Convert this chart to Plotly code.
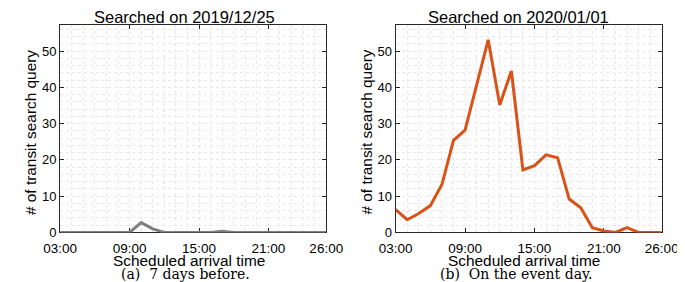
import plotly.graph_objects as go

hours = list(range(3, 27))
before_vals = [0, 0, 0, 0, 0, 0, 0, 2.7, 1.0, 0, 0, 0, 0, 0, 0.35, 0, 0, 0, 0, 0, 0, 0, 0, 0]
event_vals = [6.3, 3.5, 5.2, 7.4, 13.2, 25.4, 28.2, 41.0, 53.1, 35.1, 44.5, 17.2,
              18.4, 21.4, 20.6, 9.2, 6.8, 1.3, 0.4, 0.0, 1.3, 0, 0, 0]
tick_vals = [3, 9, 15, 21, 26]
tick_text = ["03:00", "09:00", "15:00", "21:00", "26:00"]
y_ticks = [0, 10, 20, 30, 40, 50]
titles = ["Searched on 2019/12/25", "Searched on 2020/01/01"]
captions = ["(a)  7 days before.", "(b)  On the event day."]
x_title = "Scheduled arrival time"
y_title = "# of transit search query"

W, H = 685, 282
xdoms = [[37 / W, 317 / W], [390 / W, 670 / W]]
ydom = [(H - 231) / H, (H - 17) / H]
title_cx = [167.5, 519]
label_cx = [173, 525]
caption_cx = [169, 517.5]

fig = go.Figure()
fig.add_trace(go.Scatter(x=hours, y=before_vals, mode="lines",
                         line=dict(color="#7f7f7f", width=3), xaxis="x", yaxis="y"))
fig.add_trace(go.Scatter(x=hours, y=event_vals, mode="lines",
                         line=dict(color="#D95319", width=3), xaxis="x2", yaxis="y2"))

font = "Liberation Sans, Arial, sans-serif"
axcol = "#262626"
gridcol = "#e8e8e8"

def xax(dom, anchor):
    return dict(domain=dom, anchor=anchor, range=[3, 26], tickmode="array",
                tickvals=tick_vals, ticktext=tick_text, ticks="inside", ticklen=4,
                tickcolor=axcol, showline=True, linecolor=axcol, linewidth=1,
                mirror="ticks", showgrid=True, gridcolor=gridcol, griddash="dot",
                gridwidth=1, zeroline=False, layer="below traces",
                ticklabelstandoff=3,
                tickfont=dict(family=font, size=13.5, color="#000"),
                minor=dict(dtick=1, tick0=3, showgrid=True, gridcolor=gridcol,
                           griddash="dot", gridwidth=1, ticks=""))

def yax(anchor):
    return dict(domain=ydom, anchor=anchor, range=[0, 57.3], tickmode="array",
                tickvals=y_ticks, ticks="inside", ticklen=4, tickcolor=axcol,
                showline=True, linecolor=axcol, linewidth=1, mirror="ticks",
                showgrid=True, gridcolor=gridcol, griddash="dot", gridwidth=1,
                zeroline=False, layer="below traces",
                tickfont=dict(family=font, size=13, color="#000"),
                minor=dict(dtick=2, tick0=0, showgrid=True, gridcolor=gridcol,
                           griddash="dot", gridwidth=1, ticks=""))

fig.update_layout(
    width=W, height=H, margin=dict(l=0, r=0, t=0, b=0),
    paper_bgcolor="white", plot_bgcolor="white", showlegend=False,
    xaxis=xax(xdoms[0], "y"), yaxis=yax("x"),
    xaxis2=xax(xdoms[1], "y2"), yaxis2=yax("x2"),
)

anns = []
for i in range(2):
    anns.append(dict(text=titles[i], x=title_cx[i] / W, y=1 - 9.5 / H, xref="paper", yref="paper",
                     showarrow=False, font=dict(family=font, size=16.5, color="#000"),
                     xanchor="center", yanchor="middle"))
    anns.append(dict(text=x_title, x=label_cx[i] / W, y=1 - 260 / H, xref="paper", yref="paper",
                     showarrow=False, font=dict(family=font, size=15.4, color="#000"),
                     xanchor="center", yanchor="middle"))
    anns.append(dict(text=captions[i], x=caption_cx[i] / W, y=1 - 274 / H, xref="paper", yref="paper",
                     showarrow=False, font=dict(family="DejaVu Serif, serif", size=14, color="#000"),
                     xanchor="center", yanchor="middle"))
    yx = xdoms[i][0] - 31 / W
    anns.append(dict(text=y_title, x=yx, y=1 - 128 / H, xref="paper", yref="paper",
                     showarrow=False, textangle=-90,
                     font=dict(family=font, size=15.4, color="#000"),
                     xanchor="center", yanchor="middle"))
fig.update_layout(annotations=anns)

fig.write_html("out.html")
